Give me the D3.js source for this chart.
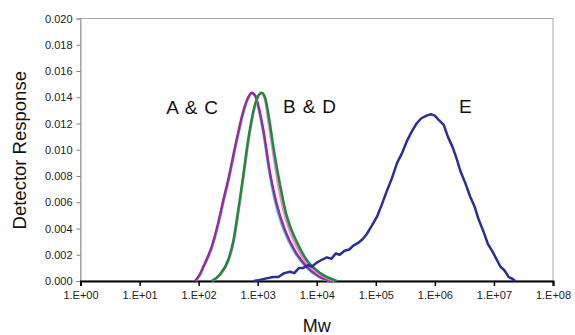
<!DOCTYPE html>
<html>
<head>
<meta charset="utf-8">
<script src="https://cdn.jsdelivr.net/npm/d3@7"></script>
<style>
    body { margin: 0; background: #fff; }
    text { font-family: Arial, "Liberation Sans", sans-serif; }
</style>
</head>
<body>
<script>
// log10(Mw) and detector response
const logA = [1.94, 2.02, 2.08, 2.22, 2.33, 2.42, 2.50, 2.64, 2.76, 2.84, 2.90, 2.96, 3.02, 3.10, 3.21, 3.32, 3.46, 3.63, 3.83, 4.06, 4.25];
const valA = [0, 0.0005, 0.0011, 0.0026, 0.0044, 0.0062, 0.0077, 0.0107, 0.0130, 0.0140, 0.01435, 0.0141, 0.0132, 0.0114, 0.0082, 0.0059, 0.0039, 0.0023, 0.0011, 0.0003, 0];

const logC = [1.95, 2.03, 2.09, 2.23, 2.34, 2.43, 2.51, 2.65, 2.77, 2.85, 2.90, 2.96, 3.01, 3.09, 3.20, 3.30, 3.44, 3.61, 3.81, 4.04, 4.22];
const valC = [0, 0.0005, 0.0011, 0.0026, 0.0044, 0.0062, 0.0077, 0.0107, 0.0130, 0.0140, 0.0143, 0.0141, 0.0132, 0.0114, 0.0082, 0.0059, 0.0039, 0.0023, 0.0011, 0.0003, 0];

const logB = [2.23, 2.37, 2.51, 2.60, 2.65, 2.71, 2.77, 2.85, 2.95, 3.01, 3.06, 3.12, 3.18, 3.25, 3.35, 3.46, 3.62, 3.79, 4.02, 4.30];
const valB = [0, 0.0005, 0.0016, 0.0031, 0.0045, 0.0063, 0.0082, 0.0108, 0.0132, 0.0141, 0.0143, 0.0139, 0.0122, 0.0101, 0.0073, 0.0050, 0.0030, 0.0016, 0.0006, 0];

const logD = [2.22, 2.36, 2.50, 2.59, 2.64, 2.70, 2.76, 2.84, 2.94, 3.01, 3.07, 3.13, 3.20, 3.27, 3.38, 3.49, 3.66, 3.83, 4.06, 4.34];
const valD = [0, 0.0005, 0.0016, 0.0031, 0.0045, 0.0063, 0.0082, 0.0108, 0.0132, 0.0141, 0.01435, 0.0139, 0.0122, 0.0101, 0.0073, 0.0050, 0.0030, 0.0016, 0.0006, 0];

const logE = [2.93, 3.05, 3.15, 3.26, 3.35, 3.45, 3.55, 3.62, 3.70, 3.77, 3.85, 3.92, 4.00, 4.08, 4.17, 4.25, 4.32, 4.39, 4.47, 4.55,
    4.62, 4.70, 4.78, 4.85, 4.93, 5.02, 5.10, 5.19, 5.27, 5.36, 5.44, 5.53, 5.61, 5.69, 5.77, 5.86, 5.93, 6.00, 6.06, 6.15,
    6.22, 6.30, 6.37, 6.43, 6.52, 6.60, 6.67, 6.74, 6.82, 6.90, 6.97, 7.05, 7.11, 7.18, 7.25, 7.30, 7.36];
const valE = [0, 0.0001, 0.0002, 0.0003, 0.0003, 0.0006, 0.0007, 0.0006, 0.0010, 0.0010, 0.0012, 0.0011, 0.0014, 0.0016, 0.0018, 0.0017, 0.0021, 0.0020, 0.0023, 0.0024,
    0.0027, 0.0029, 0.0032, 0.0036, 0.0042, 0.0049, 0.0058, 0.0069, 0.0078, 0.0090, 0.0097, 0.0107, 0.0114, 0.0120, 0.0124, 0.0126, 0.0127, 0.0126, 0.0123, 0.0119,
    0.0110, 0.0102, 0.0093, 0.0084, 0.0074, 0.0064, 0.0057, 0.0047, 0.0038, 0.0028, 0.0023, 0.0016, 0.0011, 0.0008, 0.0003, 0.0002, 0];

const xTicks = [1e0, 1e1, 1e2, 1e3, 1e4, 1e5, 1e6, 1e7, 1e8];
const yTicks = [0, 0.002, 0.004, 0.006, 0.008, 0.010, 0.012, 0.014, 0.016, 0.018, 0.020];

const series = [
    {log: logC, val: valC, color: "#5cc8ee", smooth: true},
    {log: logA, val: valA, color: "#9a2a9e", smooth: true},
    {log: logB, val: valB, color: "#e58ccd", smooth: true},
    {log: logD, val: valD, color: "#1f8a3e", smooth: true},
    {log: logE, val: valE, color: "#2b2e98", smooth: false}
];

const labels = [
    {text: "A & C", x: 10 ** 1.45, y: 0.0127},
    {text: "B & D", x: 10 ** 3.43, y: 0.0128},
    {text: "E", x: 10 ** 6.41, y: 0.0128}
];

const margin = {top: 18.5, right: 22, bottom: 54, left: 80.5},
    width = 575 - margin.left - margin.right,
    height = 335 - margin.top - margin.bottom;

let xScale = d3.scaleLog()
    .domain([1, 1e8])
    .range([0, width]);

let yScale = d3.scaleLinear()
    .domain([0, 0.02])
    .range([height, 0]);

let svg = d3.select("body")
    .append("svg")
    .attr("width", 575)
    .attr("height", 335)
    .append("g")
    .attr("transform", "translate(" + margin.left + "," + margin.top + ")");

// plot border
svg.append("rect")
    .attr("width", width)
    .attr("height", height)
    .attr("fill", "none")
    .attr("stroke", "#a8a8a8")
    .attr("stroke-width", 1);

// y axis
let yAxis = svg.append("g")
    .call(d3.axisLeft(yScale).tickValues(yTicks).tickSize(4).tickFormat(d3.format(".3f")));
yAxis.select(".domain").attr("stroke", "#a0a0a0");
yAxis.selectAll(".tick line").attr("stroke", "#808080");
yAxis.selectAll("text")
    .attr("font-size", 11)
    .attr("fill", "#222")
    .attr("dx", "-1");

// x axis
let xAxis = svg.append("g")
    .attr("transform", "translate(0," + height + ")")
    .call(d3.axisBottom(xScale).tickValues(xTicks).tickSize(5)
        .tickFormat(d => "1.E+" + String(Math.round(Math.log10(d))).padStart(2, "0")));
xAxis.select(".domain").attr("stroke", "#000").attr("stroke-width", 2);
xAxis.selectAll(".tick line").attr("stroke", "#000").attr("stroke-width", 1.5);
xAxis.selectAll("text")
    .attr("font-size", 11)
    .attr("fill", "#222")
    .attr("dy", "0.95em");

// lines
let smoothLine = d3.line()
    .x(d => xScale(10 ** d[0]))
    .y(d => yScale(d[1]))
    .curve(d3.curveMonotoneX);

let roughLine = d3.line()
    .x(d => xScale(10 ** d[0]))
    .y(d => yScale(d[1]));

svg.selectAll("path.series")
    .data(series)
    .enter()
    .append("path")
    .attr("class", "series")
    .attr("d", s => (s.smooth ? smoothLine : roughLine)(s.log.map((l, i) => [l, s.val[i]])))
    .attr("fill", "none")
    .attr("stroke", s => s.color)
    .attr("stroke-width", 2.5)
    .attr("stroke-linejoin", "round");

// series labels
svg.selectAll("text.lbl")
    .data(labels)
    .enter()
    .append("text")
    .attr("class", "lbl")
    .attr("x", d => xScale(d.x))
    .attr("y", d => yScale(d.y))
    .attr("font-size", 19)
    .attr("letter-spacing", 0.8)
    .attr("fill", "#111")
    .text(d => d.text);

// axis titles
svg.append("text")
    .attr("transform", "translate(" + (-55) + "," + (height / 2 + 0.5) + ") rotate(-90)")
    .attr("text-anchor", "middle")
    .attr("font-size", 18.5)
    .attr("fill", "#111")
    .text("Detector Response");

svg.append("text")
    .attr("x", xScale(10 ** 4))
    .attr("y", height + 51)
    .attr("text-anchor", "middle")
    .attr("font-size", 18)
    .attr("fill", "#111")
    .text("Mw");
</script>
</body>
</html>
